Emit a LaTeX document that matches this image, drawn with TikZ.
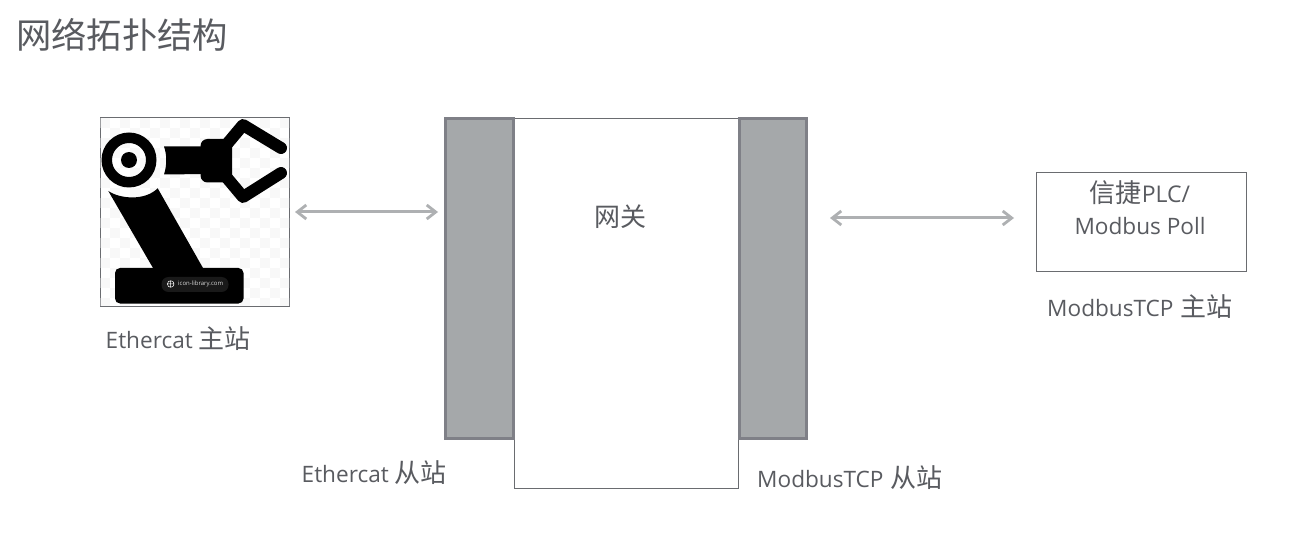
\documentclass[tikz,border=0pt]{standalone}
\usepackage{fontspec}
\setmainfont{Open Sans}
\newfontfamily\cjk{Noto Sans CJK SC}
\usetikzlibrary{arrows.meta}
\definecolor{txt}{HTML}{595B60}
\definecolor{barfill}{HTML}{A5A8AA}
\definecolor{barline}{HTML}{7F8087}
\definecolor{arrowc}{HTML}{AEB0B2}
\definecolor{boxline}{HTML}{6A6C70}
\definecolor{chk}{HTML}{F8F8F8}
\newcommand{\zh}[1]{{\cjk\fontsize{26}{30}\selectfont #1}}
\tikzset{
  x=1pt,y=-1pt,
  label text/.style={text=txt,font=\fontsize{22.6}{28}\selectfont,inner sep=0pt,anchor=west},
  bar/.style={draw=barline,line width=3pt,fill=barfill},
  thinbox/.style={draw=boxline,line width=0.9pt,fill=white},
  link/.style={draw=arrowc,line width=3pt,{Straight Barb[length=9pt,width=14pt,line width=2.8pt]}-{Straight Barb[length=9pt,width=14pt,line width=2.8pt]}},
  ink/.style={fill=black,draw=none}
}
\begin{document}
\begin{tikzpicture}
\useasboundingbox (0,0) rectangle (1290,537);
\fill[white] (0,0) rectangle (1290,537);
\node[text=txt,font=\cjk\fontsize{35.3}{40}\selectfont,inner sep=0pt,anchor=west] (title) at (16,35) {网络拓扑结构};

% robot picture
\node[thinbox,minimum width=188.5pt,minimum height=188.5pt,inner sep=0pt,anchor=north west] (robotbox) at (100,117.5) {};
\begin{scope}
\clip (100.5,118) rectangle (289,305.5);
\foreach \i in {0,...,18}{\foreach \j in {0,...,18}{
  \pgfmathparse{int(mod(\i+\j,2))}
  \ifnum\pgfmathresult=0 \fill[chk] (100+10*\i,118+10*\j) rectangle +(10,10);\fi
}}
\end{scope}
\fill[ink,even odd rule] (129,160) circle (27.5) (129,160) circle (17);
\fill[ink] (129,160) circle (8);
\fill[ink] (108.3,191) .. controls (120,199) and (145,201) .. (157.7,188.3) -- (203,268) -- (153,268) -- cycle;
\fill[ink] (164,146.5) -- (205,146.5) -- (205,174) -- (164,174.5) .. controls (167,165) and (167,155) .. (164,146.5) -- cycle;
\fill[ink,rounded corners=7pt] (200.5,139) rectangle (232,182.5);
\draw[line width=12pt,line cap=round,line join=round] (281,148) -- (243,125) -- (222,150);
\draw[line width=12pt,line cap=round,line join=round] (281,173) -- (243,197) -- (222,172);
\fill[ink,rounded corners=5pt] (115,268) rectangle (243.5,303.5);
\fill[black!90,rounded corners=7pt] (161.5,277) rectangle (228.5,292);
\draw[white,line width=0.5pt] (170.7,284) circle (3.3) (167.4,284) -- (174,284) (170.7,280.7) -- (170.7,287.3);
\node[text=white!85!black,font=\fontsize{6}{8}\selectfont,inner sep=0pt,anchor=west] (iconlib) at (178,284) {icon-library.com};

% gateway
\node[thinbox,minimum width=223.5pt,minimum height=370pt,inner sep=0pt,anchor=north west] (gateway) at (514,118) {};
\node[bar,minimum width=68pt,minimum height=320pt,inner sep=0pt,anchor=north west] (leftbar) at (444,117) {};
\node[bar,minimum width=67pt,minimum height=320pt,inner sep=0pt,anchor=north west] (rightbar) at (737.5,117) {};
\node[text=txt,font=\cjk\fontsize{26}{30}\selectfont,inner sep=0pt] (gwlabel) at (620.5,216.5) {网关};

% PLC
\node[thinbox,minimum width=209.5pt,minimum height=98.5pt,inner sep=0pt,anchor=north west] (plc) at (1036,172.5) {};
\node[text=txt,font=\fontsize{23}{28}\selectfont,inner sep=0pt] (plc1) at (1140,193) {\zh{信捷}PLC/};
\node[text=txt,font=\fontsize{22.6}{28}\selectfont,inner sep=0pt] (plc2) at (1140,226) {Modbus Poll};

% labels
\node[label text] (l1) at (105.5,339) {Ethercat \zh{主站}};
\node[label text] (l2) at (301.5,473) {Ethercat \zh{从站}};
\node[label text] (l3) at (757,478) {ModbusTCP\hspace{1.5pt} \zh{从站}};
\node[label text] (l4) at (1047,307) {ModbusTCP\hspace{1.5pt} \zh{主站}};

% links
\coordinate (a1) at (295,212);
\coordinate (a2) at (438,212);
\coordinate (b1) at (830,218);
\coordinate (b2) at (1014,218);
\draw[link] (a1) -- (a2);
\draw[link] (b1) -- (b2);
\end{tikzpicture}
\end{document}
